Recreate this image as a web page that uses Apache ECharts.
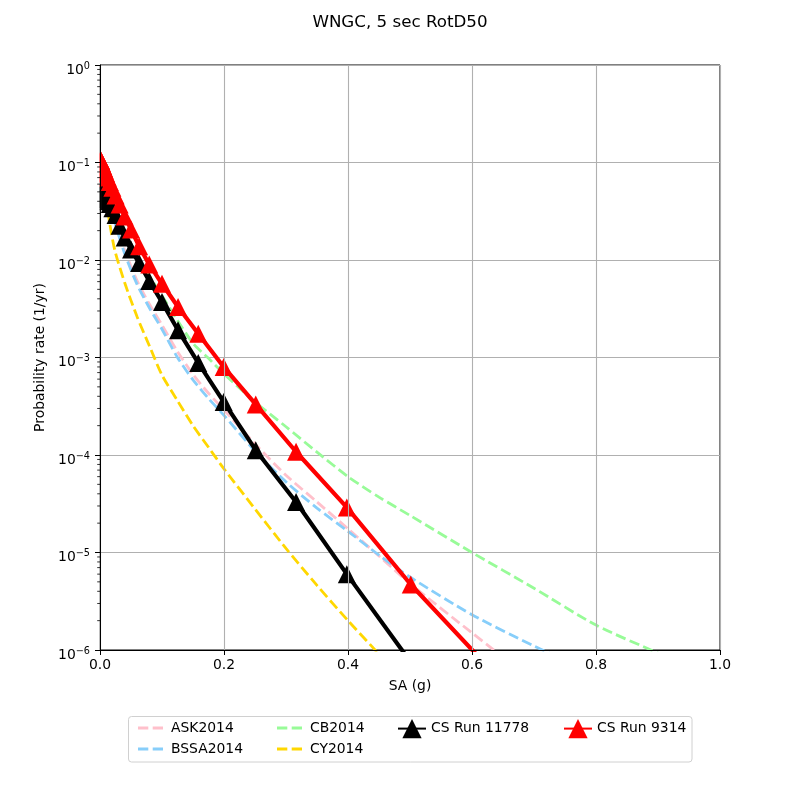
<!DOCTYPE html>
<html>
<head>
<meta charset="utf-8">
<script src="https://cdn.jsdelivr.net/npm/echarts@6/dist/echarts.min.js"></script>
<style>
html,body{margin:0;padding:0;background:#fff;}
#chart{width:800px;height:800px;}
</style>
</head>
<body>
<div id="chart"></div>
<script>
// ---- data ----
const titleText = 'WNGC, 5 sec RotD50';
const xTickValues = [0.0, 0.2, 0.4, 0.6, 0.8, 1.0];
const yTickExponents = [0, -1, -2, -3, -4, -5, -6];

// SA grid for the GMM hazard curves (g)
const modelSA = [0.001, 0.005, 0.01, 0.016, 0.024, 0.04, 0.06, 0.08, 0.1, 0.125, 0.15, 0.175, 0.2, 0.25, 0.3, 0.35, 0.4, 0.45, 0.5, 0.6, 0.7, 0.8, 0.9, 1.0];
const ask2014 = [0.1, 0.075, 0.056, 0.039, 0.026, 0.0125, 0.0061, 0.0035, 0.00215, 0.00115, 0.00067, 0.00043, 0.00029, 0.00013, 0.000062, 0.000033, 0.0000175, 0.0000092, 0.0000048, 0.0000015, 0.00000048, 0.00000016, 0.00000005, 0.000000016];
const bssa2014 = [0.1, 0.072, 0.052, 0.036, 0.024, 0.0115, 0.0056, 0.0032, 0.00195, 0.001, 0.00059, 0.00038, 0.000255, 0.00011, 0.000053, 0.0000285, 0.0000165, 0.0000094, 0.0000056, 0.0000023, 0.0000011, 0.00000056, 0.0000003, 0.00000017];
const cb2014 = [0.1, 0.085, 0.066, 0.05, 0.036, 0.02, 0.011, 0.0068, 0.0043, 0.0024, 0.0014, 0.00098, 0.00068, 0.00035, 0.000195, 0.000107, 0.00006, 0.000037, 0.000024, 0.00001, 0.0000043, 0.0000018, 0.00000093, 0.00000048];
const cy2014 = [0.09, 0.065, 0.042, 0.023, 0.0125, 0.0058, 0.0026, 0.0013, 0.00066, 0.00036, 0.0002, 0.00012, 0.000072, 0.000028, 0.000011, 0.0000046, 0.000002, 0.0000009, 0.00000036, 0.00000006, 0.00000001, 0.000000002, 0.0000000004, 0.0000000001];

// SA grid of the CyberShake runs (g)
const csSA = [0.001, 0.001259, 0.001585, 0.001995, 0.002512, 0.003162, 0.003981, 0.005012, 0.00631, 0.007943, 0.01, 0.01259, 0.01585, 0.01995, 0.02512, 0.03162, 0.03981, 0.05012, 0.0631, 0.07943, 0.1, 0.1259, 0.1585, 0.1995, 0.2512, 0.3162, 0.3981, 0.5012, 0.631];
const csRun11778 = [0.05, 0.0498, 0.0495, 0.049, 0.0485, 0.048, 0.047, 0.046, 0.045, 0.0435, 0.042, 0.04, 0.0375, 0.034, 0.029, 0.0225, 0.017, 0.0128, 0.0093, 0.0061, 0.0037, 0.0019, 0.00088, 0.00035, 0.000112, 0.000033, 0.000006, 0.00000075, 0.00000005];
const csRun9314 = [0.106, 0.105, 0.104, 0.102, 0.1, 0.098, 0.095, 0.092, 0.088, 0.083, 0.077, 0.07, 0.063, 0.055, 0.046, 0.037, 0.028, 0.0205, 0.0138, 0.009, 0.0057, 0.0033, 0.00175, 0.0008, 0.00033, 0.000108, 0.000029, 0.0000047, 0.00000062];

// ---- helpers ----
function pairs(xs, ys){ return xs.map((x,i)=>[x, ys[i]]); }
const minorTicks = [];
for (let e = -6; e < 0; e++) for (let m = 2; m <= 9; m++) minorTicks.push([0, m * Math.pow(10, e)]);

const FONT = 'DejaVu Sans';
const dash = [10.3, 4.4];
const dashIcon = 'path://M0,0h0.01v0.01h-0.01z M27.99,17.99h0.01v0.01h-0.01z M0,7.6h10.3v2.8h-10.3z M14.7,7.6h10.3v2.8h-10.3z';
function dashed(name, color, ys){
  return { name, type:'line', data: pairs(modelSA, ys), symbol:'none', smooth:0.25,
    lineStyle:{ color, width:2.8, type:dash }, itemStyle:{color}, z:2, clip:true, animation:false };
}
function cs(name, color, ys, z){
  return { name, type:'line', data: pairs(csSA, ys), symbol:'triangle', symbolSize:18, showAllSymbol:true,
    lineStyle:{ color, width:4.2 }, itemStyle:{ color }, z, clip:true, animation:false };
}
function dItem(name){ return { name, icon:dashIcon, itemStyle:{ borderWidth:0 } }; }

const chart = echarts.init(document.getElementById('chart'), null, {renderer:'canvas'});
const legendBase = { orient:'vertical', itemGap:3, itemWidth:28, itemHeight:18, top:714,
  textStyle:{ fontFamily:FONT, fontSize:13.9, color:'#000' }, selectedMode:false, z:20 };

const axisTextStyle = { fontFamily:FONT, fontSize:13.9, color:'#000' };

chart.setOption({
  animation:false,
  backgroundColor:'#fff',
  title:{ text:titleText, left:'center', top:9, textStyle:{ fontFamily:FONT, fontSize:16.7, fontWeight:'normal', color:'#000' } },
  grid:{ left:100, right:80, top:65, bottom:150, show:true, borderColor:'#000', borderWidth:1, backgroundColor:'transparent' },
  legend:[
    Object.assign({}, legendBase, { left:133, data:[dItem('ASK2014'), dItem('BSSA2014')] }),
    Object.assign({}, legendBase, { left:272, data:[dItem('CB2014'), dItem('CY2014')] }),
    Object.assign({}, legendBase, { left:392, top:714, itemHeight:24, data:['CS Run 11778'] }),
    Object.assign({}, legendBase, { left:558, top:714, itemHeight:24, data:['CS Run 9314'] })
  ],
  graphic:[
    { type:'rect', shape:{ x:128.5, y:716.5, width:563.5, height:45.5, r:3 }, style:{ fill:'none', stroke:'#d0d0d0', lineWidth:1 }, z:1 },
    // mask so markers are clipped at the left spine, like the axes box clipping
    { type:'rect', shape:{ x:80, y:60, width:19.5, height:600 }, style:{ fill:'#fff' }, z:8, silent:true }
  ],
  xAxis:{ type:'value', min:0, max:1, interval:0.2, z:10,
    name:'SA (g)', nameLocation:'middle', nameGap:29, nameTextStyle:axisTextStyle,
    axisLine:{ show:true, lineStyle:{ color:'#000', width:1 } },
    axisTick:{ show:true, inside:false, length:5, lineStyle:{ color:'#000', width:1 } },
    axisLabel:{ fontFamily:FONT, fontSize:13.9, color:'#000', margin:8, formatter:v=>v.toFixed(1) },
    splitLine:{ show:true, lineStyle:{ color:'#b0b0b0', width:1.1 } }
  },
  yAxis:[
    { type:'log', logBase:10, min:1e-6, max:1, splitNumber:6, z:0,
      axisLine:{ show:false }, axisTick:{ show:false }, axisLabel:{ show:false },
      splitLine:{ show:true, lineStyle:{ color:'#b0b0b0', width:1.1 } } },
    { type:'log', logBase:10, min:1e-6, max:1, splitNumber:6, z:10, position:'left',
      name:'Probability rate (1/yr)', nameLocation:'middle', nameGap:47, nameTextStyle:axisTextStyle,
      axisLine:{ show:true, onZero:false, lineStyle:{ color:'#000', width:1 } },
      axisTick:{ show:true, inside:false, length:5, lineStyle:{ color:'#000', width:1 } },
      axisLabel:{ margin:10, color:'#000', padding:[6,0,0,0],
        formatter:function(v){ const e = Math.round(Math.log10(v)); const s = e < 0 ? '\u2212' + (-e) : String(e); return '{b|10}{s|' + s + '}'; },
        rich:{ b:{ fontFamily:FONT, fontSize:13.9, lineHeight:14, padding:[4,0,0,0], color:'#000' },
               s:{ fontFamily:FONT, fontSize:9.7, verticalAlign:'top', color:'#000' } } },
      splitLine:{ show:false } }
  ],
  series:[
    dashed('ASK2014', '#ffc0cb', ask2014),
    dashed('BSSA2014', '#87cefa', bssa2014),
    dashed('CB2014', '#98fb98', cb2014),
    dashed('CY2014', '#ffd700', cy2014),
    cs('CS Run 11778', '#000000', csRun11778, 3),
    cs('CS Run 9314', '#ff0000', csRun9314, 4),
    { type:'custom', name:'minor', data:minorTicks, encode:{x:0, y:1}, clip:false, silent:true, z:12,
      renderItem:function(params, api){ const p = api.coord([0, api.value(1)]);
        return { type:'line', shape:{ x1:p[0]-2.8, y1:p[1], x2:p[0], y2:p[1] }, style:{ stroke:'#000', lineWidth:0.8 } }; } }
  ]
});
</script>
</body>
</html>
